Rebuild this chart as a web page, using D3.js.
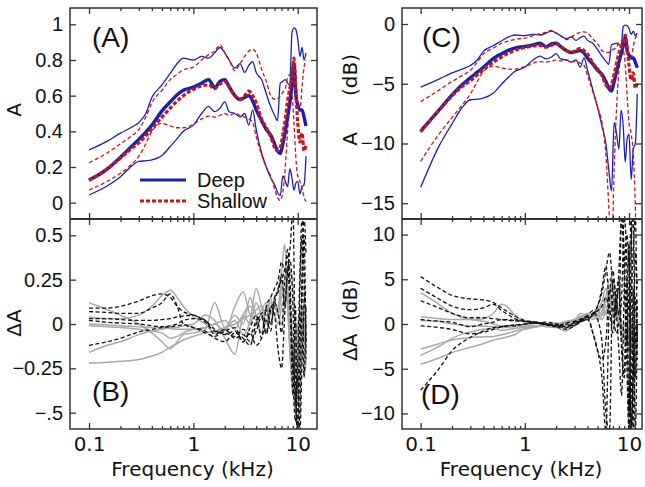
<!DOCTYPE html>
<html>
<head>
<meta charset="utf-8">
<script src="https://cdn.jsdelivr.net/npm/d3@7"></script>
<style>
body { margin: 0; background: #fff; }
</style>
</head>
<body>
<div id="chart"></div>
<script>
// ---- data: absorbance (A) and its dB form, frequencies in kHz ----
var freqA = [0.1, 0.15, 0.2, 0.25, 0.3, 0.35, 0.4, 0.5, 0.6, 0.7, 0.8, 1.0, 1.2, 1.4, 1.6, 1.8, 2.0, 2.2, 2.5, 2.8, 3.1, 3.4, 3.7, 4.0, 4.5, 5.0, 5.5, 6.0, 6.4, 6.8, 7.2, 7.6, 8.0, 8.4, 8.8, 9.2, 9.6, 10.0, 10.5, 11.0, 11.5, 12.0];

var deepMean = [0.127, 0.19, 0.255, 0.31, 0.355, 0.395, 0.435, 0.515, 0.565, 0.605, 0.63, 0.648, 0.67, 0.69, 0.645, 0.68, 0.69, 0.65, 0.6, 0.578, 0.59, 0.6, 0.57, 0.52, 0.46, 0.41, 0.38, 0.33, 0.29, 0.275, 0.33, 0.4, 0.48, 0.56, 0.66, 0.78, 0.6, 0.55, 0.52, 0.52, 0.48, 0.43];
var deepHi = [0.296, 0.345, 0.39, 0.42, 0.45, 0.5, 0.59, 0.66, 0.725, 0.78, 0.81, 0.8, 0.82, 0.81, 0.84, 0.87, 0.84, 0.8, 0.755, 0.78, 0.73, 0.77, 0.79, 0.73, 0.69, 0.61, 0.54, 0.49, 0.46, 0.67, 0.68, 0.69, 0.67, 0.66, 0.95, 0.98, 0.97, 0.92, 0.82, 0.87, 0.8, 0.84];
var deepLo = [0.043, 0.095, 0.146, 0.2, 0.232, 0.235, 0.24, 0.265, 0.315, 0.36, 0.4, 0.435, 0.5, 0.54, 0.51, 0.53, 0.565, 0.51, 0.5, 0.48, 0.5, 0.435, 0.52, 0.41, 0.28, 0.2, 0.14, 0.1, 0.06, 0.04, 0.15, 0.12, 0.09, 0.19, 0.14, 0.07, 0.11, 0.12, 0.05, 0.09, 0.1, 0.26];
var shallowMean = [0.125, 0.19, 0.25, 0.3, 0.335, 0.375, 0.415, 0.48, 0.53, 0.57, 0.6, 0.635, 0.655, 0.66, 0.64, 0.665, 0.68, 0.65, 0.6, 0.58, 0.6, 0.625, 0.6, 0.56, 0.47, 0.42, 0.37, 0.31, 0.29, 0.31, 0.38, 0.47, 0.57, 0.64, 0.7, 0.81, 0.62, 0.45, 0.34, 0.39, 0.29, 0.33];
var shallowHi = [0.224, 0.28, 0.33, 0.37, 0.41, 0.48, 0.56, 0.63, 0.69, 0.72, 0.745, 0.76, 0.8, 0.83, 0.85, 0.885, 0.84, 0.8, 0.74, 0.78, 0.82, 0.85, 0.86, 0.84, 0.75, 0.68, 0.6, 0.58, 0.58, 0.6, 0.62, 0.64, 0.7, 0.72, 0.74, 0.76, 0.7, 0.55, 0.52, 0.65, 0.76, 0.8];
var shallowLo = [0.071, 0.12, 0.165, 0.21, 0.26, 0.33, 0.4, 0.445, 0.43, 0.42, 0.42, 0.44, 0.47, 0.485, 0.48, 0.49, 0.5, 0.49, 0.5, 0.49, 0.48, 0.47, 0.45, 0.37, 0.27, 0.2, 0.15, 0.08, 0.03, 0.012, 0.06, 0.2, 0.4, 0.55, 0.6, 0.45, 0.25, 0.15, 0.12, 0.08, 0.03, 0.005];

var deepMeanDb = [-8.96, -7.21, -5.93, -5.09, -4.50, -4.03, -3.62, -2.88, -2.48, -2.18, -2.01, -1.88, -1.74, -1.61, -1.90, -1.67, -1.61, -1.87, -2.22, -2.38, -2.29, -2.22, -2.44, -2.84, -3.37, -3.87, -4.20, -4.81, -5.38, -5.61, -4.81, -3.98, -3.19, -2.52, -1.80, -1.08, -2.22, -2.60, -2.84, -2.84, -3.19, -3.67];
var deepHiDb = [-5.29, -4.62, -4.09, -3.77, -3.47, -3.01, -2.29, -1.80, -1.40, -1.08, -0.92, -0.97, -0.86, -0.92, -0.76, -0.60, -0.76, -0.97, -1.22, -1.08, -1.37, -1.14, -1.02, -1.37, -1.61, -2.15, -2.68, -3.10, -3.37, -1.74, -1.67, -1.61, -1.74, -1.80, -0.22, -0.09, -0.13, -0.36, -0.86, -0.60, -0.97, -0.76];
var deepLoDb = [-13.67, -10.22, -8.36, -6.99, -6.34, -6.29, -6.20, -5.77, -5.02, -4.44, -3.98, -3.62, -3.01, -2.68, -2.92, -2.76, -2.48, -2.92, -3.01, -3.19, -3.01, -3.62, -2.84, -3.87, -5.53, -6.99, -8.54, -10.0, -12.22, -13.98, -8.24, -9.21, -10.46, -7.21, -8.54, -11.55, -9.59, -9.21, -13.01, -10.46, -10.0, -5.85];
var shallowMeanDb = [-9.03, -7.21, -6.02, -5.23, -4.75, -4.26, -3.82, -3.19, -2.76, -2.44, -2.22, -1.97, -1.84, -1.80, -1.94, -1.77, -1.67, -1.87, -2.22, -2.37, -2.22, -2.04, -2.22, -2.52, -3.28, -3.77, -4.32, -5.09, -5.38, -5.09, -4.20, -3.28, -2.44, -1.94, -1.55, -0.92, -2.08, -3.47, -4.69, -4.09, -5.38, -4.81];
var shallowHiDb = [-6.50, -5.53, -4.81, -4.32, -3.87, -3.19, -2.52, -2.01, -1.61, -1.43, -1.28, -1.19, -0.97, -0.81, -0.71, -0.53, -0.76, -0.97, -1.31, -1.08, -0.86, -0.71, -0.66, -0.76, -1.25, -1.67, -2.22, -2.37, -2.37, -2.22, -2.08, -1.94, -1.55, -1.43, -1.31, -1.19, -1.55, -2.60, -2.84, -1.87, -1.19, -0.97];
var shallowLoDb = [-11.49, -9.21, -7.83, -6.78, -5.85, -4.81, -3.98, -3.52, -3.67, -3.77, -3.77, -3.57, -3.28, -3.14, -3.19, -3.10, -3.01, -3.10, -3.01, -3.10, -3.19, -3.28, -3.47, -4.32, -5.69, -6.99, -8.24, -10.97, -15.23, -19.2, -12.22, -6.99, -3.98, -2.60, -2.22, -3.47, -6.02, -8.24, -9.21, -10.97, -15.23, -23.0];

// ---- data: individual differences from the mean ----
var freqDiff = [0.1, 0.15, 0.2, 0.3, 0.4, 0.5, 0.6, 0.7, 0.8, 1.0, 1.3, 1.6, 2.0, 2.5, 3.0, 3.5, 4.0, 4.5, 5.0, 5.5, 6.0, 6.5, 7.0, 7.5, 8.0, 8.5, 9.0, 9.5, 10.0, 10.5, 11.0, 11.5, 12.0];

var deepDiffA = [
  [0.12, 0.08, 0.05, 0.0, -0.05, -0.1, -0.14, -0.1, -0.06, -0.05, -0.03, 0.12, -0.02, 0.05, 0.0, 0.15, 0.05, 0.08, 0.12, 0.05, 0.15, 0.2, 0.3, 0.45, 0.2, -0.1, -0.3, -0.5, -0.2, -0.35, 0.1, -0.1, 0.0],
  [-0.16, -0.12, -0.1, -0.06, -0.04, -0.03, -0.02, -0.02, -0.01, 0.0, 0.05, 0.02, -0.08, -0.17, 0.05, 0.1, 0.05, -0.05, 0.1, 0.0, 0.1, 0.05, 0.2, 0.25, 0.1, -0.2, -0.4, -0.2, 0.0, -0.2, -0.1, 0.0, -0.15],
  [-0.22, -0.215, -0.21, -0.2, -0.18, -0.16, -0.13, -0.11, -0.09, -0.07, -0.05, -0.04, -0.02, 0.0, 0.03, 0.05, 0.08, 0.1, 0.05, 0.1, 0.12, 0.08, 0.15, 0.2, 0.1, -0.2, -0.35, -0.45, -0.3, -0.2, -0.1, -0.3, -0.2],
  [0.0, -0.005, -0.01, -0.015, -0.02, -0.02, -0.025, -0.03, -0.03, -0.03, -0.02, 0.0, 0.02, -0.03, 0.05, 0.0, 0.12, 0.05, 0.02, 0.08, 0.05, 0.0, 0.1, 0.15, 0.25, 0.3, 0.2, 0.0, -0.3, -0.15, -0.05, 0.0, -0.1],
  [-0.01, -0.015, -0.02, -0.03, -0.04, -0.05, -0.08, -0.07, -0.05, -0.03, -0.02, 0.0, -0.04, 0.1, 0.18, 0.05, 0.02, -0.05, 0.08, 0.12, 0.1, 0.05, 0.0, 0.1, 0.2, 0.05, -0.25, -0.1, 0.0, 0.05, -0.1, -0.2, -0.05],
  [0.04, 0.03, 0.03, 0.05, 0.1, 0.16, 0.19, 0.15, 0.1, 0.04, 0.0, -0.05, -0.03, 0.02, -0.06, 0.02, 0.2, 0.1, 0.0, 0.15, 0.05, 0.1, 0.25, 0.3, 0.15, -0.15, -0.2, -0.3, -0.1, -0.15, -0.05, 0.0, 0.1]
];
var shallowDiffA = [
  [0.09, 0.09, 0.1, 0.13, 0.16, 0.17, 0.15, 0.1, 0.07, 0.05, 0.02, -0.03, -0.06, -0.04, -0.1, -0.02, 0.05, -0.08, 0.1, 0.15, 0.2, 0.25, 0.35, 0.3, 0.42, 0.2, -0.3, -0.55, -0.2, 0.3, 0.6, 0.3, -0.1],
  [0.07, 0.065, 0.06, 0.06, 0.09, 0.12, 0.17, 0.1, 0.0, -0.02, -0.04, -0.08, -0.1, -0.05, -0.08, -0.12, 0.0, 0.05, -0.05, 0.1, 0.05, -0.15, -0.25, 0.05, 0.3, 0.45, 0.65, -0.3, -0.65, -0.1, 0.2, 0.5, -0.2],
  [0.03, 0.03, 0.025, 0.02, 0.02, 0.025, 0.03, 0.04, 0.045, 0.05, 0.01, -0.04, -0.05, -0.07, -0.03, -0.06, 0.02, 0.06, 0.08, 0.0, 0.12, 0.2, 0.25, 0.3, 0.38, 0.1, -0.2, -0.4, -0.6, 0.2, 0.5, -0.3, 0.1],
  [0.02, 0.01, 0.005, 0.0, -0.01, -0.015, -0.01, 0.0, 0.02, 0.03, 0.02, -0.06, -0.03, -0.08, -0.06, -0.1, -0.04, 0.04, -0.06, 0.08, 0.12, 0.06, -0.05, 0.25, 0.32, 0.05, -0.4, 0.1, -0.6, -0.5, 0.3, 0.6, 0.4],
  [-0.12, -0.1, -0.08, -0.045, -0.03, -0.02, -0.015, -0.01, -0.005, -0.02, -0.05, -0.07, -0.04, -0.02, -0.1, -0.05, -0.12, -0.08, 0.02, -0.04, 0.15, 0.18, 0.28, 0.1, 0.3, 0.35, 0.1, -0.45, -0.3, -0.6, -0.2, 0.1, 0.2]
];
var deepDiffDb = [
  [3.5, 2.2, 1.2, 0.5, 0.3, 0.0, -0.2, -0.2, -0.1, -0.1, -0.2, -0.3, -0.4, -0.8, 0.2, 0.5, 0.6, 1.0, 0.8, 1.5, 3.0, 5.0, 4.0, 2.0, 1.0, -1.0, -2.0, -1.0, -2.5, -1.5, -2.0, -1.0, -2.0],
  [0.8, 0.6, 0.5, 0.5, 0.6, 1.2, 2.2, 1.8, 1.0, 0.2, 0.1, 0.0, -0.1, 0.2, 0.5, 1.2, 0.6, 0.8, 1.5, 2.5, 4.0, 3.0, 5.0, 3.0, 1.0, 0.0, -1.0, -2.0, -1.5, -3.0, -2.0, -1.0, -1.5],
  [0.4, 0.3, 0.0, -0.2, -0.25, -0.3, -0.4, -0.35, -0.3, -0.3, -0.2, -0.1, -0.2, -0.5, 0.0, 0.3, 0.5, 0.8, 1.0, 0.5, 1.5, 2.0, 3.0, 1.0, 0.5, -0.5, -1.0, -2.0, -1.0, -0.5, -1.5, -2.5, -1.0],
  [-2.8, -2.2, -1.8, -1.5, -1.45, -1.4, -1.2, -1.0, -0.8, -0.6, -0.3, -0.1, 0.0, 0.2, 0.4, 0.6, 1.0, 1.2, 0.5, 1.0, 2.0, 1.0, 2.5, 1.5, 0.5, -1.0, 0.0, -1.0, -3.0, -2.0, -0.5, -1.5, -2.5],
  [-3.5, -2.5, -1.6, -0.9, -0.6, -0.5, -0.7, -0.6, -0.5, -0.4, -0.2, 0.0, 0.1, -0.2, 0.3, 0.8, 1.2, 0.5, 1.0, 2.0, 1.0, 2.0, 1.5, 0.5, 0.0, -1.5, -1.0, 0.0, -1.0, -2.0, -1.0, -1.5, -0.5],
  [-4.5, -3.8, -3.2, -2.6, -2.2, -1.8, -1.6, -1.4, -1.2, -0.5, -0.3, -0.1, 0.0, 0.3, 0.5, 0.9, 0.6, 1.0, 1.5, 1.0, 2.5, 3.5, 1.0, 2.0, 1.0, 0.0, -1.5, -2.0, -1.0, 0.0, -2.5, -2.0, -1.0]
];
var shallowDiffDb = [
  [5.3, 4.0, 3.2, 2.8, 2.7, 2.4, 1.8, 1.3, 0.9, 0.4, 0.2, 0.0, -0.2, -0.4, 0.2, 0.3, 0.6, 1.0, 2.0, 3.5, 6.0, 8.0, 4.0, 1.0, 6.0, 12, 5.0, -4.0, -12, 9.0, 12, -6.0, 2.0],
  [4.0, 2.8, 2.0, 1.6, 1.8, 2.2, 1.5, 1.0, 0.6, 0.3, 0.1, -0.1, -0.3, 0.0, -0.2, 0.4, 0.8, -1.0, -3.0, -6.0, -12, 3.0, 6.0, 2.0, -3.0, -8.0, 4.0, 10, 6.0, -12, -6.0, 8.0, 4.0],
  [2.6, 1.8, 1.2, 0.7, 0.7, 0.6, 0.5, 0.4, 0.35, 0.3, 0.1, -0.1, -0.2, 0.1, 0.3, 0.6, 1.0, 1.5, 0.5, -2.0, -10, -12, 5.0, 3.0, 1.0, 12, 8.0, -2.0, 4.0, 12, -12, -2.0, 3.0],
  [0.5, 0.3, 0.2, -0.3, 0.0, 0.2, 0.5, 0.5, 0.4, 0.3, 0.2, 0.0, -0.1, -0.3, 0.0, 0.4, 0.8, 1.2, 2.0, 4.0, 6.5, 2.0, -1.0, 2.0, 4.0, -3.0, -6.0, 5.0, -10, 3.0, 8.0, 12, -4.0],
  [-7.4, -5.0, -3.0, -1.5, -0.8, -0.4, -0.3, -0.2, -0.2, 0.0, 0.1, 0.0, -0.3, -0.6, -0.2, 0.3, 0.5, -1.0, -3.0, -4.0, -2.0, 4.0, 2.0, -1.0, 0.0, 3.0, 12, 7.0, -12, -8.0, 4.0, -12, 0.0],
  [-0.2, -0.4, -0.6, -1.1, -0.9, -0.6, -0.3, -0.2, -0.1, 0.0, 0.1, 0.2, 0.0, -0.3, 0.2, 0.5, 0.8, 1.0, 1.5, 2.0, 3.0, 1.5, 0.0, 3.0, 5.0, -2.0, -6.0, 2.0, 9.0, -12, -5.0, 3.0, -2.0]
];

// tick values and labels
var xMajor = [0.1, 1, 10];
var xMajorLabels = ["0.1", "1", "10"];
var xMinor = [0.2, 0.3, 0.4, 0.5, 0.6, 0.7, 0.8, 0.9, 2, 3, 4, 5, 6, 7, 8, 9];
var ticksA = [0, 0.2, 0.4, 0.6, 0.8, 1];
var labelsA = ["0", "0.2", "0.4", "0.6", "0.8", "1"];
var ticksB = [-0.5, -0.25, 0, 0.25, 0.5];
var labelsB = ["\u2212.5", "\u22120.25", "0", "0.25", "0.5"];
var ticksC = [-15, -10, -5, 0];
var labelsC = ["\u221215", "\u221210", "\u22125", "0"];
var ticksD = [-10, -5, 0, 5, 10];
var labelsD = ["\u221210", "\u22125", "0", "5", "10"];

// ---- drawing ----
var W = 645, H = 487;
var colDeep = "#1a1fb4", colShallow = "#c41818", colFrame = "#333";
var sansFont = "'Liberation Sans', Arial, sans-serif";
var dejaFont = "'DejaVu Sans', sans-serif";

var svg = d3.select("#chart").append("svg")
    .attr("width", W)
    .attr("height", H);

var xLeft = d3.scaleLog().domain([0.0657, 15.3]).range([70, 317]);
var xRight = d3.scaleLog().domain([0.0662, 13.33]).range([402, 642]);

var yA = d3.scaleLinear().domain([-0.0914, 1.0914]).range([219, 8]);
var yB = d3.scaleLinear().domain([-0.592, 0.592]).range([429, 219]);
var yC = d3.scaleLinear().domain([-16.32, 1.34]).range([219, 8]);
var yD = d3.scaleLinear().domain([-11.74, 11.74]).range([429, 219]);

var clipCount = 0;
function panelGroup(x, y) {
    var id = "clip" + (clipCount++);
    var x0 = x.range()[0], x1 = x.range()[1];
    var yTop = y.range()[1], yBot = y.range()[0];
    svg.append("clipPath").attr("id", id)
        .append("rect")
        .attr("x", x0).attr("y", yTop)
        .attr("width", x1 - x0).attr("height", yBot - yTop);
    return svg.append("g").attr("clip-path", "url(#" + id + ")");
}

function drawSeries(g, x, y, freqs, values, style) {
    var line = d3.line()
        .x(function(d, i) { return x(freqs[i]); })
        .y(function(d) { return y(d); })
        .curve(d3.curveMonotoneX);
    g.append("path")
        .datum(values)
        .attr("fill", "none")
        .attr("stroke", style.color)
        .attr("stroke-width", style.width)
        .attr("stroke-dasharray", style.dash || null)
        .attr("stroke-linejoin", "round")
        .attr("d", line);
}

var thinDeep = { color: colDeep, width: 1.3 };
var thickDeep = { color: colDeep, width: 3.4 };
var thinShallow = { color: colShallow, width: 1.3, dash: "4,2.5" };
var thickShallow = { color: colShallow, width: 3.2, dash: "4,2" };
var grayLine = { color: "#a9a9a9", width: 1.5 };
var blackDash = { color: "#111", width: 1.3, dash: "4,2.5" };

// panel A
var gA = panelGroup(xLeft, yA);
[deepHi, deepLo].forEach(function(s) { drawSeries(gA, xLeft, yA, freqA, s, thinDeep); });
[shallowHi, shallowLo].forEach(function(s) { drawSeries(gA, xLeft, yA, freqA, s, thinShallow); });
drawSeries(gA, xLeft, yA, freqA, deepMean, thickDeep);
drawSeries(gA, xLeft, yA, freqA, shallowMean, thickShallow);

// panel C
var gC = panelGroup(xRight, yC);
[deepHiDb, deepLoDb].forEach(function(s) { drawSeries(gC, xRight, yC, freqA, s, thinDeep); });
[shallowHiDb, shallowLoDb].forEach(function(s) { drawSeries(gC, xRight, yC, freqA, s, thinShallow); });
drawSeries(gC, xRight, yC, freqA, deepMeanDb, thickDeep);
drawSeries(gC, xRight, yC, freqA, shallowMeanDb, thickShallow);

// panel B
var gB = panelGroup(xLeft, yB);
deepDiffA.forEach(function(s) { drawSeries(gB, xLeft, yB, freqDiff, s, grayLine); });
shallowDiffA.forEach(function(s) { drawSeries(gB, xLeft, yB, freqDiff, s, blackDash); });

// panel D
var gD = panelGroup(xRight, yD);
deepDiffDb.forEach(function(s) { drawSeries(gD, xRight, yD, freqDiff, s, grayLine); });
shallowDiffDb.forEach(function(s) { drawSeries(gD, xRight, yD, freqDiff, s, blackDash); });

// frames, ticks and labels
function styleAxis(g) {
    g.select(".domain").remove();
    g.selectAll("line").attr("stroke", colFrame).attr("stroke-width", 1.3);
    g.selectAll("text")
        .style("font-family", sansFont)
        .style("font-size", "20px")
        .attr("fill", "#111");
}

function drawFrame(x, yTopScale, yBotScale) {
    var x0 = x.range()[0], x1 = x.range()[1];
    var top = yTopScale.range()[1], mid = yTopScale.range()[0], bot = yBotScale.range()[0];
    svg.append("rect")
        .attr("x", x0).attr("y", top)
        .attr("width", x1 - x0).attr("height", bot - top)
        .attr("fill", "none").attr("stroke", colFrame).attr("stroke-width", 1.5);
    svg.append("line")
        .attr("x1", x0).attr("x2", x1).attr("y1", mid).attr("y2", mid)
        .attr("stroke", colFrame).attr("stroke-width", 2.2);

    // top edge: inward ticks
    svg.append("g").attr("transform", "translate(0," + top + ")")
        .call(d3.axisTop(x).tickValues(xMajor).tickSize(-6).tickFormat(""))
        .call(styleAxis);
    svg.append("g").attr("transform", "translate(0," + top + ")")
        .call(d3.axisTop(x).tickValues(xMinor).tickSize(-3).tickFormat(""))
        .call(styleAxis);
    // middle divider: ticks cross the line
    [d3.axisTop, d3.axisBottom].forEach(function(ax) {
        svg.append("g").attr("transform", "translate(0," + mid + ")")
            .call(ax(x).tickValues(xMajor).tickSize(6).tickFormat(""))
            .call(styleAxis);
        svg.append("g").attr("transform", "translate(0," + mid + ")")
            .call(ax(x).tickValues(xMinor).tickSize(3).tickFormat(""))
            .call(styleAxis);
    });
    // bottom edge: inward ticks and labels
    svg.append("g").attr("transform", "translate(0," + bot + ")")
        .call(d3.axisBottom(x).tickValues(xMajor).tickSize(-6).tickPadding(8)
            .tickFormat(function(d, i) { return xMajorLabels[i]; }))
        .call(styleAxis)
        .selectAll("text").style("font-family", dejaFont);
    svg.append("g").attr("transform", "translate(0," + bot + ")")
        .call(d3.axisBottom(x).tickValues(xMinor).tickSize(-3).tickFormat(""))
        .call(styleAxis);

    svg.append("text")
        .attr("x", (x0 + x1) / 2 - 1).attr("y", 476)
        .attr("text-anchor", "middle")
        .style("font-family", dejaFont)
        .style("font-size", "20px")
        .attr("fill", "#111")
        .text("Frequency (kHz)");
}

function drawYAxis(x, y, values, labels) {
    var x0 = x.range()[0], x1 = x.range()[1];
    svg.append("g").attr("transform", "translate(" + x0 + ",0)")
        .call(d3.axisLeft(y).tickValues(values).tickSize(-6).tickPadding(7)
            .tickFormat(function(d, i) { return labels[i]; }))
        .call(styleAxis);
    svg.append("g").attr("transform", "translate(" + x1 + ",0)")
        .call(d3.axisRight(y).tickValues(values).tickSize(-6).tickFormat(""))
        .call(styleAxis);
}

drawFrame(xLeft, yA, yB);
drawFrame(xRight, yC, yD);
drawYAxis(xLeft, yA, ticksA, labelsA);
drawYAxis(xLeft, yB, ticksB, labelsB);
drawYAxis(xRight, yC, ticksC, labelsC);
drawYAxis(xRight, yD, ticksD, labelsD);

// axis titles
function yTitle(x, y, txt) {
    svg.append("text")
        .attr("transform", "translate(" + x + "," + y + ") rotate(-90)")
        .attr("text-anchor", "middle")
        .style("font-family", dejaFont)
        .style("font-size", "20px")
        .style("white-space", "pre")
        .attr("fill", "#111")
        .text(txt);
}
yTitle(21, 110, "A");
yTitle(21, 323, "\u0394A");
yTitle(357, 139, "A");
yTitle(357, 75, "(dB)");
yTitle(357, 320, "\u0394A  (dB)");

// panel letters
[["(A)", 92, 47], ["(B)", 92, 401], ["(C)", 422, 47], ["(D)", 421, 404]].forEach(function(p) {
    svg.append("text").attr("x", p[1]).attr("y", p[2])
        .style("font-family", sansFont)
        .style("font-size", "28px")
        .attr("fill", "#111")
        .text(p[0]);
});

// legend in panel A
var legend = [
    { name: "Deep", style: thickDeep, y: 180 },
    { name: "Shallow", style: thickShallow, y: 201 }
];
legend.forEach(function(d) {
    svg.append("line")
        .attr("x1", 140).attr("x2", 186).attr("y1", d.y).attr("y2", d.y)
        .attr("stroke", d.style.color)
        .attr("stroke-width", d.style.width - 0.4)
        .attr("stroke-dasharray", d.style.dash || null);
    svg.append("text")
        .attr("x", 197).attr("y", d.y + 7)
        .style("font-family", sansFont)
        .style("font-size", "20px")
        .attr("fill", "#111")
        .text(d.name);
});
</script>
</body>
</html>
